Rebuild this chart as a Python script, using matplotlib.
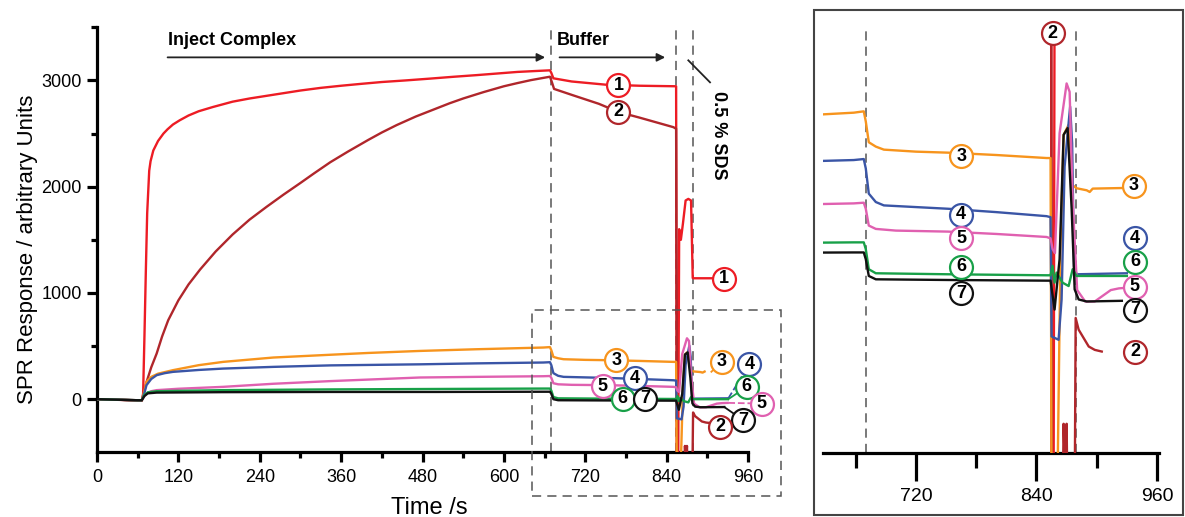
import numpy as np
import matplotlib.pyplot as plt
from matplotlib.patches import Rectangle

plt.rcParams['font.family'] = ['Liberation Sans', 'DejaVu Sans']

# ---- data (time s, response a.u.) ----
t1 = [0, 30, 60, 66, 68, 70, 72, 74, 77, 79, 83, 90, 98, 104, 112, 122, 135, 150, 171, 200,
      225, 245, 275, 300, 330, 360, 390, 420, 455, 491, 525, 560, 590, 620, 645, 668, 670,
      673, 700, 750, 800, 854, 855, 857, 858.5, 861, 864, 868, 872, 876, 878.5, 880, 912]
v1 = [0, -5, -12, -15, 50, 600, 1200, 1750, 2150, 2240, 2340, 2430, 2500, 2540, 2585, 2625,
      2670, 2710, 2750, 2800, 2830, 2850, 2880, 2905, 2930, 2950, 2968, 2985, 3000, 3017,
      3034, 3050, 3065, 3080, 3088, 3095, 3070, 3020, 2990, 2960, 2950, 2945, -700, -700,
      1600, 1500, 1650, 1870, 1885, 1870, 1140, 1138, 1138]

t2 = [0, 60, 66, 68, 70, 73, 80, 88, 96, 105, 120, 135, 152, 175, 200, 225, 250, 275, 300,
      320, 344, 370, 400, 420, 442, 470, 500, 520, 540, 570, 600, 620, 640, 668, 671, 674,
      702, 740, 769, 800, 850, 854, 855.5, 866, 867, 868.5, 870, 871, 878, 879, 882, 892,
      898, 905]
v2 = [0, -12, -15, 30, 90, 160, 300, 430, 590, 743, 930, 1080, 1220, 1390, 1550, 1690, 1810,
      1925, 2035, 2125, 2230, 2330, 2440, 2510, 2580, 2660, 2735, 2785, 2830, 2890, 2945,
      2975, 3003, 3035, 2980, 2920, 2860, 2780, 2703, 2650, 2560, 2545, -700, -700, -440,
      -600, -440, -700, -700, -125, -160, -210, -220, -225]

t3 = [0, 60, 66, 70, 73, 80, 90, 112, 150, 186, 260, 344, 400, 476, 560, 658, 668, 670, 673,
      680, 688, 720, 752, 800, 850, 854, 855, 861, 864, 867, 872, 876, 880, 890, 893, 896, 930]
v3 = [0, -10, -10, 80, 163, 210, 240, 273, 320, 351, 392, 418, 435, 454, 470, 486, 490, 460,
      398, 385, 376, 370, 367, 360, 351, 351, -600, -600, 100, 420, 450, 270, 261, 255, 250,
      260, 262]

t4 = [0, 60, 66, 70, 73, 80, 88, 100, 112, 150, 186, 260, 344, 476, 560, 658, 668, 670, 673,
      680, 688, 720, 752, 800, 850, 854, 855, 862, 865, 868, 873.5, 875.5, 877.4, 880, 930]
v4 = [0, -10, -10, 60, 132, 190, 226, 245, 257, 275, 288, 304, 318, 328, 337, 345, 348, 320,
      245, 220, 210, 205, 200, 190, 178, 175, -180, -190, -70, 325, 504, 395, 28, 5, 8]

t5 = [0, 60, 66, 70, 73, 80, 88, 120, 186, 260, 344, 476, 560, 658, 668, 670, 673, 680, 700,
      752, 800, 850, 854, 856, 858.4, 863, 870, 873, 876, 880.5, 888.5, 898, 914, 922, 930]
v5 = [0, -10, -10, 30, 53, 75, 85, 98, 116, 145, 170, 204, 210, 216, 218, 200, 150, 140, 135,
      132, 125, 116, 112, 80, 68, 425, 573, 548, 226, -42, -76, -76, -42, -37, -35]

t6 = [0, 60, 66, 70, 75, 88, 186, 344, 500, 658, 668, 670, 673, 680, 752, 850, 854, 856, 858,
      860, 866, 872, 876, 880, 930]
v6 = [0, -10, -10, 40, 65, 75, 85, 92, 96, 100, 100, 80, 20, 8, 5, 2, 2, 30, -20, 10, -20,
      -30, 20, 0, 0]

t7 = [0, 60, 66, 70, 75, 88, 186, 344, 500, 658, 668, 670, 673, 680, 752, 850, 854, 858, 863,
      867, 871, 875, 878, 882, 890, 925]
v7 = [0, -10, -10, 30, 55, 62, 66, 68, 68, 70, 70, 50, 0, -10, -12, -14, -14, -100, 50, 420,
      440, 200, -40, -70, -76, -74]

colors = ['#ed1c24', '#b0262b', '#f7941d', '#3a55a6', '#e060b0', '#18a048', '#111111']
series = [(t1, v1), (t2, v2), (t3, v3), (t4, v4), (t5, v5), (t6, v6), (t7, v7)]

# labels: (number, t, value)
main_labels = [(1, 769, 2954), (2, 769, 2703), (3, 766, 367), (4, 793, 195), (5, 746, 122),
               (6, 775, 6), (7, 808, 6), (1, 924, 1135), (3, 921, 351), (4, 962, 329),
               (6, 958, 116), (5, 980, -41), (7, 953, -198), (2, 919, -260)]
inset_labels = [(3, 765, 357), (4, 765, 182), (5, 765, 112), (6, 765, 28), (7, 765, -52),
                (3, 937, 269), (4, 938, 112), (6, 938, 43), (5, 938, -32), (7, 938, -101),
                (2, 938, -225), (2, 856, 722)]
# leader lines from data end to right-hand labels in main plot
leaders = [(2, 905, -225, 919, -260, '-'), (3, 906, 258, 921, 351, '-'),
           (4, 931, 8, 962, 329, '--'), (6, 931, 0, 958, 116, '-'),
           (5, 931, -35, 980, -41, '--'), (7, 925, -74, 953, -198, '-')]
events = [670, 854, 879]

W, H = 1185, 517
fig = plt.figure(figsize=(W / 100, H / 100), dpi=100)


def fbox(x0, y0, x1, y1):
    # pixel box (top-left origin) -> figure fraction rect
    return [x0 / W, (H - y1) / H, (x1 - x0) / W, (y1 - y0) / H]


def circ(ax, n, x, y, c):
    ax.plot(x, y, 'o', ms=16.5, mfc='white', mec=c, mew=1.6, zorder=6, clip_on=False)
    ax.text(x, y, str(n), ha='center', va='center', fontsize=13, fontweight='bold',
            zorder=7, clip_on=False)


# ---- main plot ----
ax = fig.add_axes(fbox(97, 27.3, 748, 452.3))
for i, (t, v) in enumerate(series):
    t = np.array(t)
    v = np.array(v)
    if i == 2:
        keep = t <= 906
        t, v = t[keep], v[keep]
    ax.plot(t, v, color=colors[i], lw=1.7, zorder=3)
for ev in events:
    ax.plot([ev, ev], [-500, 3470], color='#555555', lw=1.1, ls=(0, (6, 4)), zorder=2,
            clip_on=False)
for n, x0, y0, x1, y1, ls in leaders:
    ax.plot([x0, x1], [y0, y1], color=colors[n - 1], lw=1.3, ls=ls, zorder=4, clip_on=False)
for n, x, y in main_labels:
    circ(ax, n, x, y, colors[n - 1])

ax.set_xlim(0, 960)
ax.set_ylim(-500, 3500)
ax.set_xticks(np.arange(0, 961, 120))
ax.set_xticks(np.arange(60, 960, 120), minor=True)
ax.set_yticks([0, 1000, 2000, 3000])
ax.set_yticks([500, 1500, 2500, 3500], minor=True)
for s in ['top', 'right']:
    ax.spines[s].set_visible(False)
for s in ['left', 'bottom']:
    ax.spines[s].set_linewidth(2.3)
ax.tick_params(which='major', direction='out', length=7, width=2.3, labelsize=13, pad=4)
ax.tick_params(which='minor', direction='out', length=4, width=2.3)
ax.tick_params(axis='x', which='major', pad=5)
ax.set_ylabel('SPR Response / arbitrary Units', fontsize=16)
ax.yaxis.set_label_coords(-0.09, 0.478)
fig.text(429 / W, 1 - 497 / H, 'Time /s', fontsize=17, ha='center', va='top')

# annotations
ax.annotate('', xy=(665, 3217), xytext=(100, 3217),
            arrowprops=dict(arrowstyle='-|>', color='#222222', lw=1.3, mutation_scale=12),
            annotation_clip=False)
ax.annotate('', xy=(842, 3217), xytext=(678, 3217),
            arrowprops=dict(arrowstyle='-|>', color='#222222', lw=1.3, mutation_scale=12),
            annotation_clip=False)
ax.text(105, 3377, 'Inject Complex', fontsize=13, fontweight='bold', va='center')
ax.text(678, 3377, 'Buffer', fontsize=13, fontweight='bold', va='center')
ax.text(916, 2483, '0.5 % SDS', fontsize=13, fontweight='bold', rotation=270,
        ha='center', va='center', clip_on=False)
ax.plot([872, 904], [3189, 2982], color='#222222', lw=1.3, clip_on=False)

fig.add_artist(Rectangle((532 / W, 1 - 496 / H), (781 - 532) / W, (496 - 310) / H,
                         transform=fig.transFigure, fill=False, ec='#555555', lw=1.1,
                         ls=(0, (6, 4))))

# ---- zoomed inset ----
fig.add_artist(Rectangle((814 / W, 1 - 515 / H), (1183 - 814) / W, (515 - 10) / H,
                         transform=fig.transFigure, fill=False, ec='#444444', lw=1.5))
ax2 = fig.add_axes(fbox(822.6, 25, 1159, 453))
for i, (t, v) in enumerate(series):
    ax2.plot(t, v, color=colors[i], lw=1.7, zorder=3)
for ev in [670, 879]:
    ax2.plot([ev, ev], [-527, 735], color='#555555', lw=1.1, ls=(0, (6, 4)), zorder=2)
for n, x, y in inset_labels:
    circ(ax2, n, x, y, colors[n - 1])
ax2.set_xlim(627, 962)
ax2.set_ylim(-527, 747)
ax2.set_xticks([720, 840, 960])
ax2.set_xticks([660, 780, 900], minor=True)
ax2.set_yticks([])
for s in ['top', 'right', 'left']:
    ax2.spines[s].set_visible(False)
ax2.spines['bottom'].set_linewidth(2.3)
ax2.tick_params(which='major', direction='out', length=20, width=2.3, labelsize=14, pad=5)
ax2.tick_params(which='minor', direction='out', length=11, width=2.3)

plt.savefig('out.png', dpi=100)
